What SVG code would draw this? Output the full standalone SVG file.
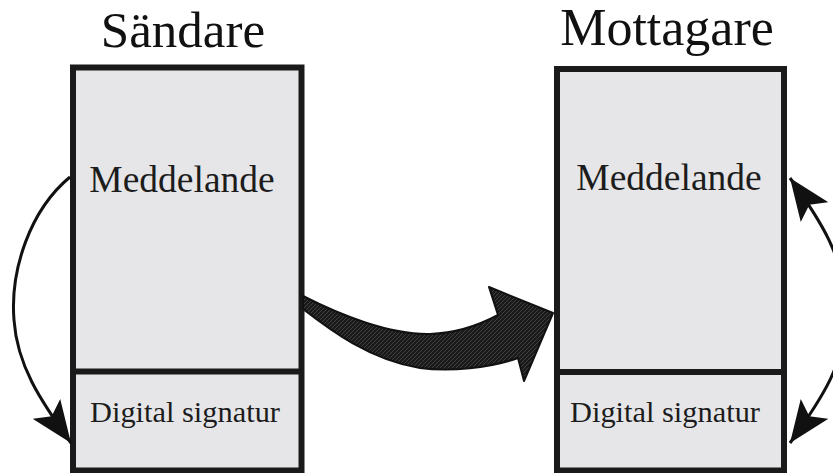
<svg xmlns="http://www.w3.org/2000/svg" width="833" height="473" viewBox="0 0 833 473">
  <style>
    .box { fill: #e6e6e8; stroke: #1a1a1a; stroke-width: 6; }
    .divider { stroke: #1a1a1a; stroke-width: 6; }
    .title { fill: #111; text-anchor: middle; }
    .label { fill: #1c1c1c; text-anchor: middle; }
    .arc { fill: none; stroke: #111; stroke-width: 3; }
  </style>
  <defs>
    <marker id="head" markerUnits="userSpaceOnUse" viewBox="0 0 42 34" refX="42" refY="17" markerWidth="42" markerHeight="34" orient="auto-start-reverse">
      <path d="M0,0 L42,17 L0,34 L9,17 Z" fill="#111"/>
    </marker>
    <pattern id="hatch" patternUnits="userSpaceOnUse" width="4" height="4">
      <rect width="4" height="4" fill="#1a1a1a"/>
      <path d="M0,4 L4,0" stroke="#5a5a5a" stroke-width="0.6"/>
    </pattern>
  </defs>

  <!-- sender -->
  <g id="sender" font-family="Liberation Serif, DejaVu Serif, serif">
    <text class="title" x="183" y="47" font-size="51">Sändare</text>
    <rect class="box" x="73" y="67.5" width="228.5" height="403"/>
    <line class="divider" x1="73" y1="371.5" x2="301.5" y2="371.5"/>
    <text class="label" x="182" y="192" font-size="37.5">Meddelande</text>
    <text class="label" x="185" y="422" font-size="30.4">Digital signatur</text>
  </g>

  <!-- receiver -->
  <g id="receiver" font-family="Liberation Serif, DejaVu Serif, serif">
    <text class="title" x="667" y="45" font-size="52">Mottagare</text>
    <rect class="box" x="557" y="69" width="227" height="401.5"/>
    <line class="divider" x1="557" y1="372" x2="784" y2="372"/>
    <text class="label" x="669" y="190" font-size="37.5">Meddelande</text>
    <text class="label" x="665" y="422" font-size="30.4">Digital signatur</text>
  </g>

  <!-- connectors -->
  <g id="connectors">
    <path class="arc" d="M 70 177 C 30 210, 10 270, 14 320 C 17 365, 40 400, 71 443" marker-end="url(#head)"/>
    <path class="arc" d="M 790 178 C 821 221, 844 256, 846 310 C 848 360, 821 400, 790 443" marker-start="url(#head)" marker-end="url(#head)"/>
    <path d="M 303 296 C 340 315, 390 335, 430 334 C 460 333, 485 322, 498 315 L 489 287 L 553 313 L 524 381 L 518 358 C 490 368, 450 372, 420 368 C 370 360, 330 330, 303 309 Z" fill="url(#hatch)" stroke="#111" stroke-width="2" stroke-linejoin="round"/>
  </g>
</svg>
